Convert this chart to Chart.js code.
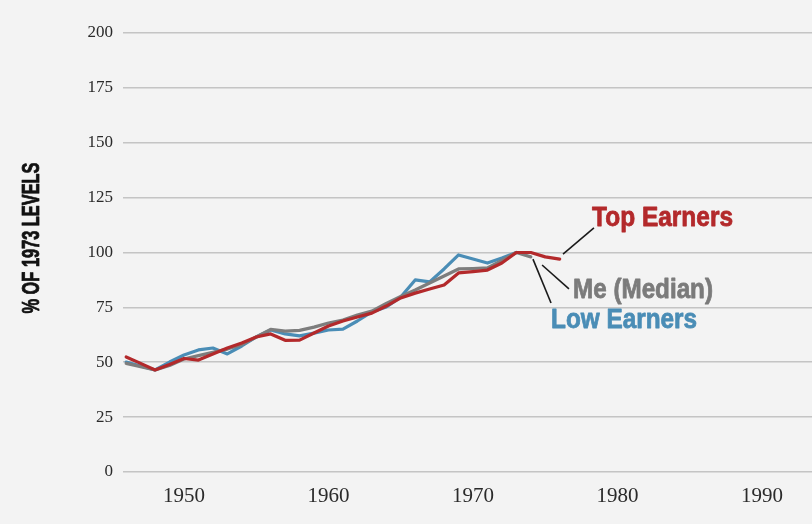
<!DOCTYPE html>
<html>
<head>
<meta charset="utf-8">
<script src="https://cdn.jsdelivr.net/npm/chart.js@4/dist/chart.umd.min.js"></script>
<style>
  html, body { margin: 0; padding: 0; background: #f3f3f3; }
  #wrap { width: 812px; height: 524px; position: relative; }
</style>
</head>
<body>
<div id="wrap"><canvas id="c"></canvas></div>
<script>
// ---- data ----
const years = [1946,1947,1948,1949,1950,1951,1952,1953,1954,1955,1956,1957,1958,1959,1960,
               1961,1962,1963,1964,1965,1966,1967,1968,1969,1970,1971,1972,1973,1974,1975,1976];
const topEarners = [52.4,49.5,46.5,49,51.7,51,53.8,56.5,58.8,61.5,62.9,60,60.1,63.3,66.5,
                    68.8,70.6,72.4,75.6,79.3,81.5,83.4,85.2,90.7,91.3,92,95.2,100,100,98,97];
const median = [49.5,48,46.5,48.5,51.5,53,54.5,56,58,61.5,65,64.2,64.5,66,67.9,
                69.2,71.5,73.3,76.8,80,82.9,86.1,89.3,92.5,92.7,93,96.4,100,98];
const lowEarners = [50.1,48.3,46.5,50.1,53.3,55.6,56.5,53.8,57.4,61.5,64.7,62.9,62,63.3,64.7,
                    65.1,68.8,72.9,75.2,79.7,87.5,86.6,92.5,98.9,97,95.2,97.5,100];
const xTicks = [1950,1960,1970,1980,1990];
const yTicks = [0,25,50,75,100,125,150,175,200];
const labels = [
  { text: 'Top Earners', color: '#b3292b', w: 141, from: [1976.23, 99.3], to: [1978.37, 111.2], at: [1978.24, 112.1] },
  { text: 'Me (Median)', color: '#7b7b7b', w: 140, from: [1974.78, 94.3], to: [1976.64, 83.4], at: [1976.92, 79.3] },
  { text: 'Low Earners', color: '#4a8db6', w: 146, from: [1974.15, 97.0], to: [1975.40, 77.0], at: [1975.40, 65.6] }
];
const axisTitle = '% OF 1973 LEVELS';

const toPts = (vals) => vals.map((v, i) => ({ x: years[i], y: v }));

function fitText(ctx, text, x, y, width, align, strokeW) {
  const m = ctx.measureText(text).width;
  const sx = width / m;
  ctx.save();
  ctx.translate(x, y);
  ctx.scale(sx, 1);
  ctx.textAlign = align;
  ctx.fillText(text, 0, 0);
  if (strokeW) {
    ctx.strokeStyle = ctx.fillStyle;
    ctx.lineWidth = strokeW;
    ctx.lineJoin = 'round';
    ctx.strokeText(text, 0, 0);
  }
  ctx.restore();
}

const bgPlugin = {
  id: 'bg',
  beforeDraw(chart) {
    const ctx = chart.ctx;
    ctx.save();
    ctx.fillStyle = '#f3f3f3';
    ctx.fillRect(0, 0, chart.width, chart.height);
    ctx.restore();
  }
};

const annoPlugin = {
  id: 'anno',
  afterDatasetsDraw(chart) {
    const ctx = chart.ctx;
    const xs = chart.scales.x, ys = chart.scales.y;
    ctx.save();
    labels.forEach(l => {
      ctx.strokeStyle = '#1a1a1a';
      ctx.lineWidth = 1.6;
      ctx.beginPath();
      ctx.moveTo(xs.getPixelForValue(l.from[0]), ys.getPixelForValue(l.from[1]));
      ctx.lineTo(xs.getPixelForValue(l.to[0]), ys.getPixelForValue(l.to[1]));
      ctx.stroke();
      ctx.font = 'bold 28px "Liberation Sans", "DejaVu Sans", sans-serif';
      ctx.fillStyle = l.color;
      ctx.textBaseline = 'alphabetic';
      fitText(ctx, l.text, xs.getPixelForValue(l.at[0]), ys.getPixelForValue(l.at[1]), l.w, 'left', 0.8);
    });
    // rotated axis title
    ctx.translate(33, 238);
    ctx.rotate(-Math.PI / 2);
    ctx.font = 'bold 23px "Liberation Sans", "DejaVu Sans", sans-serif';
    ctx.fillStyle = '#111';
    ctx.textBaseline = 'middle';
    fitText(ctx, axisTitle, 0, 0, 151, 'center', 0.8);
    ctx.restore();
  }
};

new Chart(document.getElementById('c'), {
  type: 'line',
  data: {
    datasets: [
      { label: 'Top Earners', data: toPts(topEarners), borderColor: '#b3292b', borderWidth: 3.2 },
      { label: 'Me (Median)', data: toPts(median), borderColor: '#7d7d7d', borderWidth: 3.2 },
      { label: 'Low Earners', data: toPts(lowEarners), borderColor: '#4a8db6', borderWidth: 3.2 }
    ]
  },
  options: {
    responsive: true,
    maintainAspectRatio: false,
    animation: false,
    devicePixelRatio: 1,
    layout: { padding: { top: 33, right: 0, left: 0, bottom: 0 } },
    elements: {
      point: { radius: 0 },
      line: { tension: 0, borderJoinStyle: 'round', borderCapStyle: 'round', fill: false }
    },
    plugins: { legend: { display: false }, tooltip: { enabled: false } },
    scales: {
      x: {
        type: 'linear',
        min: 1945.78,
        max: 1993.46,
        afterBuildTicks: (s) => { s.ticks = xTicks.map(v => ({ value: v })); },
        afterFit: (s) => { s.height = 52; },
        grid: { display: false, drawTicks: false },
        border: { display: false },
        ticks: {
          padding: 12,
          color: '#2a2a2a',
          font: { family: '"Liberation Serif", serif', size: 21 },
          maxRotation: 0,
          callback: (v) => String(v)
        }
      },
      y: {
        min: 0,
        max: 200,
        afterBuildTicks: (s) => { s.ticks = yTicks.map(v => ({ value: v })); },
        afterFit: (s) => { s.width = 123; },
        grid: { color: '#c4c4c4', lineWidth: 1.6, drawTicks: false },
        border: { display: false },
        ticks: {
          padding: 10,
          color: '#2a2a2a',
          font: { family: '"Liberation Serif", serif', size: 17 }
        }
      }
    }
  },
  plugins: [bgPlugin, annoPlugin]
});
</script>
</body>
</html>
